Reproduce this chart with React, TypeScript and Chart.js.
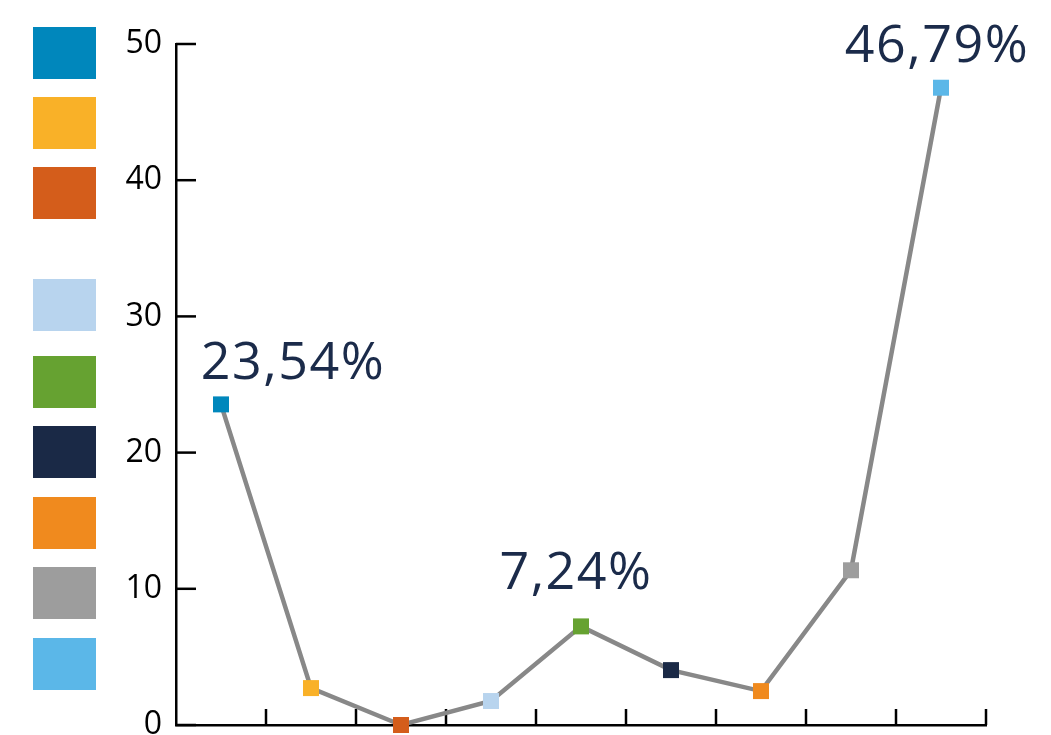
import React, { useEffect, useRef } from "react";
import { Chart, registerables } from "chart.js";

Chart.register(...registerables);

const categories = ["1", "2", "3", "4", "5", "6", "7", "8", "9"];
const values = [23.54, 2.71, 0.0, 1.76, 7.24, 4.03, 2.49, 11.36, 46.79];
const pointColors = [
  "#0087BC",
  "#F9B128",
  "#D45D1B",
  "#B8D4EE",
  "#66A231",
  "#1A2946",
  "#F08A1E",
  "#9D9D9D",
  "#5BB7E8",
];
const yTicks = [0, 10, 20, 30, 40, 50];
const labeledIndices = [0, 4, 8];

const legendTops = [27, 97, 167, 279, 356, 426, 497, 567, 638];

const labelOffsets: Record<number, { dx: number; dy: number }> = {
  0: { dx: 72, dy: -25 },
  4: { dx: -5, dy: -37 },
  8: { dx: -4, dy: -26 },
};

const fmt = (v: number) => v.toFixed(2).replace(".", ",") + "%";

const innerTicksPlugin = {
  id: "innerTicks",
  beforeDatasetsDraw(chart: any) {
    const { ctx, chartArea, scales } = chart;
    ctx.save();
    ctx.strokeStyle = "#000";
    ctx.lineWidth = 2.5;
    const y = scales.y;
    yTicks.forEach((t) => {
      const py = y.getPixelForValue(t);
      ctx.beginPath();
      ctx.moveTo(chartArea.left, py);
      ctx.lineTo(chartArea.left + 20, py);
      ctx.stroke();
    });
    const n = categories.length;
    const w = (chartArea.right - chartArea.left) / n;
    for (let i = 1; i <= n; i++) {
      const px = chartArea.left + i * w;
      ctx.beginPath();
      ctx.moveTo(px, chartArea.bottom);
      ctx.lineTo(px, chartArea.bottom - 16);
      ctx.stroke();
    }
    ctx.restore();
  },
};

const valueLabelsPlugin = {
  id: "valueLabels",
  afterDatasetsDraw(chart: any) {
    const { ctx } = chart;
    const meta = chart.getDatasetMeta(0);
    ctx.save();
    ctx.fillStyle = "#1B2B4A";
    ctx.font = "500 52px 'Open Sans'";
    ctx.textAlign = "center";
    ctx.textBaseline = "alphabetic";
    try {
      (ctx as any).letterSpacing = "1.5px";
    } catch (e) {}
    labeledIndices.forEach((i) => {
      const el = meta.data[i];
      const o = labelOffsets[i] || { dx: 0, dy: -26 };
      ctx.fillText(fmt(values[i]), el.x + o.dx, el.y + o.dy);
    });
    ctx.restore();
  },
};

export default function App() {
  const canvasRef = useRef<HTMLCanvasElement | null>(null);

  useEffect(() => {
    document.body.style.margin = "0";
    const chart = new Chart(canvasRef.current as HTMLCanvasElement, {
      type: "line",
      data: {
        labels: categories,
        datasets: [
          {
            data: values,
            borderColor: "#888888",
            borderWidth: 4.5,
            tension: 0,
            pointStyle: "rect",
            pointRadius: 11.3,
            pointHoverRadius: 11.3,
            pointBorderWidth: 0,
            pointBackgroundColor: pointColors,
            clip: false as any,
          },
        ],
      },
      options: {
        animation: false,
        responsive: true,
        maintainAspectRatio: false,
        events: [],
        layout: { autoPadding: false, padding: { top: 44, right: 65, left: 0, bottom: 0 } },
        plugins: {
          legend: { display: false },
          tooltip: { enabled: false },
        },
        scales: {
          x: {
            type: "category",
            offset: true,
            ticks: { display: false },
            grid: { display: false, drawTicks: false, offset: true },
            border: { display: true, color: "#000", width: 2.5 },
            afterFit: (s: any) => {
              s.height = 10;
              s.paddingLeft = 0;
              s.paddingRight = 0;
            },
          },
          y: {
            min: 0,
            max: 50,
            ticks: {
              stepSize: 10,
              color: "#000",
              padding: 14,
              font: { family: "'Open Sans'", size: 32 },
            },
            grid: { display: false, drawTicks: false },
            border: { display: true, color: "#000", width: 2.5 },
            afterFit: (s: any) => {
              s.width = 176;
              s.paddingTop = 0;
              s.paddingBottom = 0;
            },
          },
        },
      },
      plugins: [innerTicksPlugin, valueLabelsPlugin],
    });
    return () => chart.destroy();
  }, []);

  return (
    <div
      style={{
        position: "fixed",
        left: 0,
        top: 0,
        width: 1051,
        height: 735,
        background: "#fff",
        overflow: "hidden",
      }}
    >
      {pointColors.map((c, i) => (
        <div
          key={i}
          style={{
            position: "absolute",
            left: 33,
            top: legendTops[i],
            width: 63,
            height: 52,
            background: c,
          }}
        />
      ))}
      <div style={{ position: "absolute", left: 0, top: 0, width: 1051, height: 735 }}>
        <canvas ref={canvasRef} />
      </div>
    </div>
  );
}
